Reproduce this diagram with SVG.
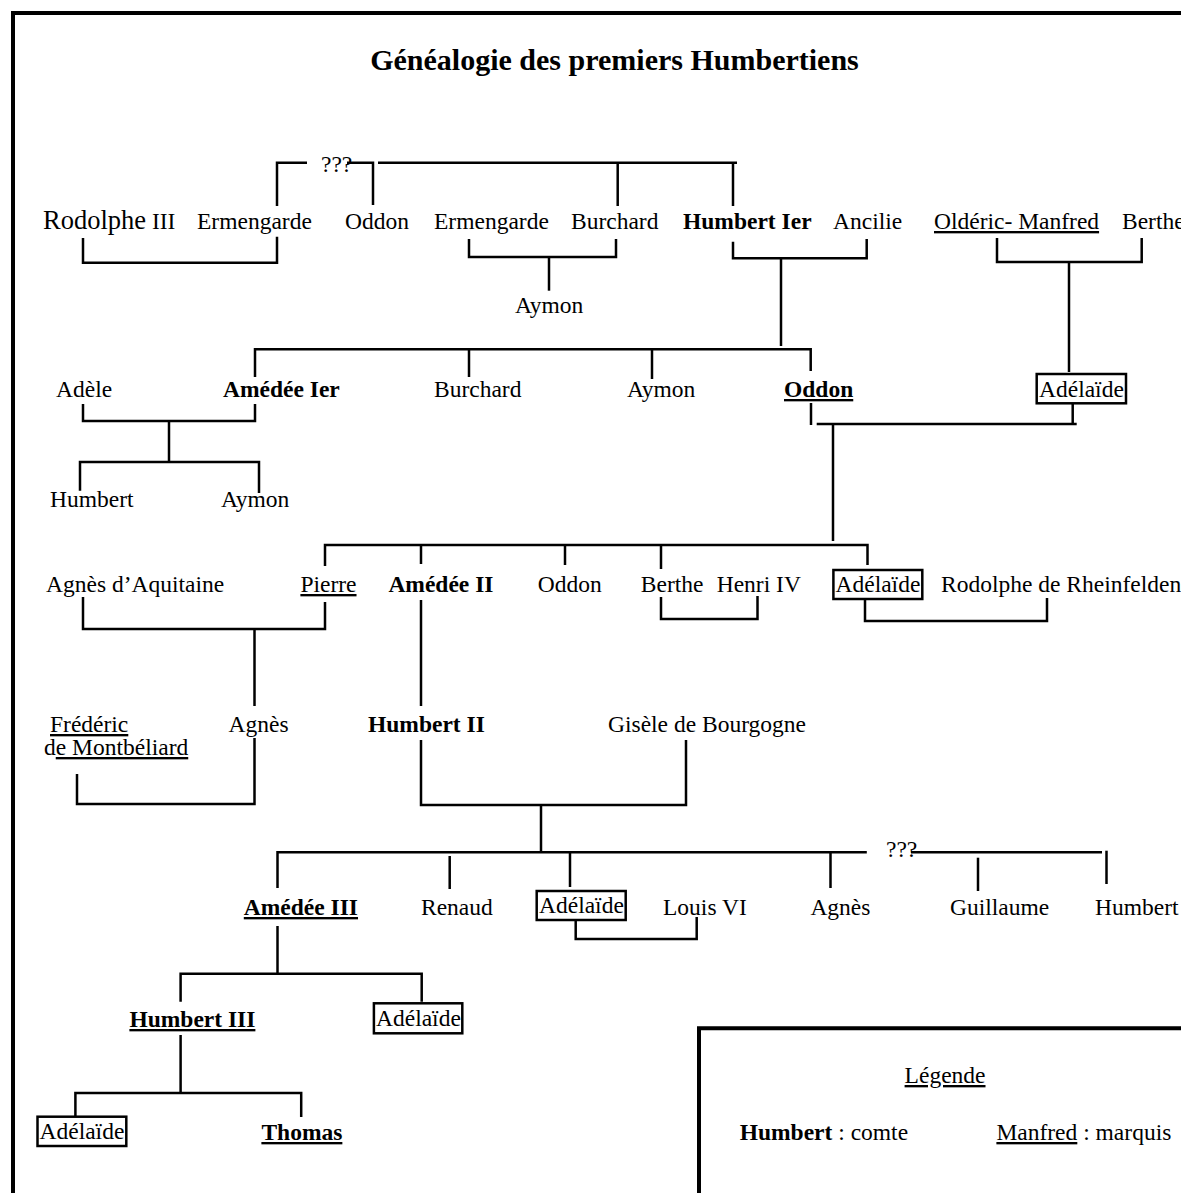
<svg xmlns="http://www.w3.org/2000/svg" width="1181" height="1193" viewBox="0 0 1181 1193">
<style>
.t{font-family:"Liberation Serif","Times New Roman",serif;font-size:23.5px;fill:#000}
.b{font-weight:bold}
.u{text-decoration:underline}
.c path{fill:none;stroke:#000;stroke-width:2.5}
.box{fill:#fff;stroke:#000;stroke-width:2.5}
.frame{fill:none;stroke:#000;stroke-width:4}
</style>
<rect width="1181" height="1193" fill="#fff"/>
<path class="frame" d="M13,1193 V13 H1181"/>
<text class="t b" x="614.5" y="70" text-anchor="middle" style="font-size:30px">Généalogie des premiers Humbertiens</text>

<g id="connectors" class="c">
<path d="M277,206 V162.7 H307"/>
<path d="M347,162.7 H373 V205"/>
<path d="M378,162.7 H737"/>
<path d="M617.7,162.7 V206"/>
<path d="M733,162.7 V206"/>
<path d="M83,238 V262.7 H277 V236.7"/>
<path d="M469,239 V257 H616 V239"/>
<path d="M549,257 V290.7"/>
<path d="M733,241.7 V258.3 H866.7 V239"/>
<path d="M781,258.3 V346"/>
<path d="M997,238 V262 H1141.7 V238"/>
<path d="M1069,262 V372"/>
<path d="M255,377 V349.3 H810.7 V371"/>
<path d="M469,349.3 V377"/>
<path d="M652,349.3 V379"/>
<path d="M83,404 V421 H255 V404"/>
<path d="M169,421 V462"/>
<path d="M80,490.7 V462 H259 V493"/>
<path d="M811,403 V425"/>
<path d="M816.7,424 H1076.7"/>
<path d="M1072.7,403.3 V424"/>
<path d="M833,424 V541"/>
<path d="M325,566 V545 H867.5 V565"/>
<path d="M421,545 V564"/>
<path d="M565,545 V565"/>
<path d="M661,545 V569"/>
<path d="M83,597 V629 H325 V602"/>
<path d="M254.5,629 V706"/>
<path d="M421,600 V706"/>
<path d="M661,597 V619 H757.5 V596"/>
<path d="M865,600 V621 H1047 V598"/>
<path d="M77,774 V804 H254.5 V738"/>
<path d="M421,740 V805 H686 V740"/>
<path d="M541,805 V852"/>
<path d="M277.5,888 V852.3 H866.8"/>
<path d="M449.7,856 V889"/>
<path d="M570,852.3 V887"/>
<path d="M830.5,852.3 V888"/>
<path d="M911,852.3 H1102"/>
<path d="M1106.5,850.7 V884"/>
<path d="M978,857.7 V891"/>
<path d="M575.7,920 V939 H696.7 V917"/>
<path d="M277.5,926 V973.7"/>
<path d="M180.6,1001.7 V973.7 H421.7 V1001.7"/>
<path d="M180.6,1035 V1093"/>
<path d="M75.4,1116 V1093 H301.2 V1117"/>
</g>

<g id="q1"><text class="t" x="321" y="172">???</text></g>
<g id="rodolphe3"><text class="t" x="43" y="229"><tspan style="font-size:26.5px">Rodolphe</tspan> III</text></g>
<g id="ermengarde1"><text class="t" x="197" y="229">Ermengarde</text></g>
<g id="oddon1"><text class="t" x="345" y="229">Oddon</text></g>
<g id="ermengarde2"><text class="t" x="434" y="229">Ermengarde</text></g>
<g id="burchard1"><text class="t" x="571" y="229">Burchard</text></g>
<g id="humbert1"><text class="t b" x="683" y="229">Humbert Ier</text></g>
<g id="ancilie"><text class="t" x="833" y="229">Ancilie</text></g>
<g id="olderic"><text class="t u" x="934" y="229">Oldéric- Manfred</text></g>
<g id="berthe1"><text class="t" x="1122" y="229">Berthe</text></g>
<g id="aymon1"><text class="t" x="515" y="313">Aymon</text></g>

<g id="adele"><text class="t" x="56" y="397">Adèle</text></g>
<g id="amedee1"><text class="t b" x="223" y="397">Amédée Ier</text></g>
<g id="burchard2"><text class="t" x="434" y="397">Burchard</text></g>
<g id="aymon2"><text class="t" x="627" y="397">Aymon</text></g>
<g id="oddon2"><text class="t b u" x="784" y="397">Oddon</text></g>
<g id="adelaide1"><rect class="box" x="1036.7" y="374" width="89.3" height="29.3"/><text class="t" x="1039" y="397">Adélaïde</text></g>
<g id="humbert"><text class="t" x="50" y="507">Humbert</text></g>
<g id="aymon3"><text class="t" x="221" y="507">Aymon</text></g>

<g id="agnes-aq"><text class="t" x="46" y="592">Agnès d’Aquitaine</text></g>
<g id="pierre"><text class="t u" x="300.4" y="592">Pierre</text></g>
<g id="amedee2"><text class="t b" x="388.4" y="592">Amédée II</text></g>
<g id="oddon3"><text class="t" x="537.7" y="592">Oddon</text></g>
<g id="berthe2"><text class="t" x="640.8" y="592">Berthe</text></g>
<g id="henri4"><text class="t" x="716.7" y="592">Henri IV</text></g>
<g id="adelaide2"><rect class="box" x="833.4" y="570" width="88.9" height="29"/><text class="t" x="835.5" y="592">Adélaïde</text></g>
<g id="rodolphe-rh"><text class="t" x="941" y="592">Rodolphe de Rheinfelden</text></g>

<g id="frederic"><text class="t" x="50" y="732"><tspan class="u">Frédéric</tspan></text><text class="t" x="44" y="755">d<tspan class="u">e Montbéliard</tspan></text></g>
<g id="agnes2"><text class="t" x="228.5" y="732">Agnès</text></g>
<g id="humbert2"><text class="t b" x="368" y="732">Humbert II</text></g>
<g id="gisele"><text class="t" x="608" y="732">Gisèle de Bourgogne</text></g>

<g id="amedee3"><text class="t b u" x="243.8" y="915">Amédée III</text></g>
<g id="renaud"><text class="t" x="421" y="915">Renaud</text></g>
<g id="adelaide3"><rect class="box" x="536.7" y="891" width="89" height="29"/><text class="t" x="539" y="913">Adélaïde</text></g>
<g id="louis6"><text class="t" x="663" y="915">Louis VI</text></g>
<g id="agnes3"><text class="t" x="810.4" y="915">Agnès</text></g>
<g id="q2"><text class="t" x="886" y="857">???</text></g>
<g id="guillaume"><text class="t" x="950" y="915">Guillaume</text></g>
<g id="humbert-b"><text class="t" x="1095" y="915">Humbert</text></g>

<g id="humbert3"><text class="t b u" x="129.4" y="1027">Humbert III</text></g>
<g id="adelaide4"><rect class="box" x="373.9" y="1003.3" width="88.4" height="30"/><text class="t" x="376" y="1026">Adélaïde</text></g>
<g id="adelaide5"><rect class="box" x="37.5" y="1116.7" width="88.8" height="29.3"/><text class="t" x="39.5" y="1139">Adélaïde</text></g>
<g id="thomas"><text class="t b u" x="261.4" y="1140">Thomas</text></g>

<g id="legend">
<path class="frame" d="M699,1193 V1028.3 H1181"/>
<text class="t u" x="904.6" y="1083">Légende</text>
<text class="t" x="739.7" y="1140"><tspan class="b">Humbert</tspan> : comte</text>
<text class="t" x="996.4" y="1140"><tspan class="u">Manfred</tspan> : marquis</text>
</g>
</svg>
